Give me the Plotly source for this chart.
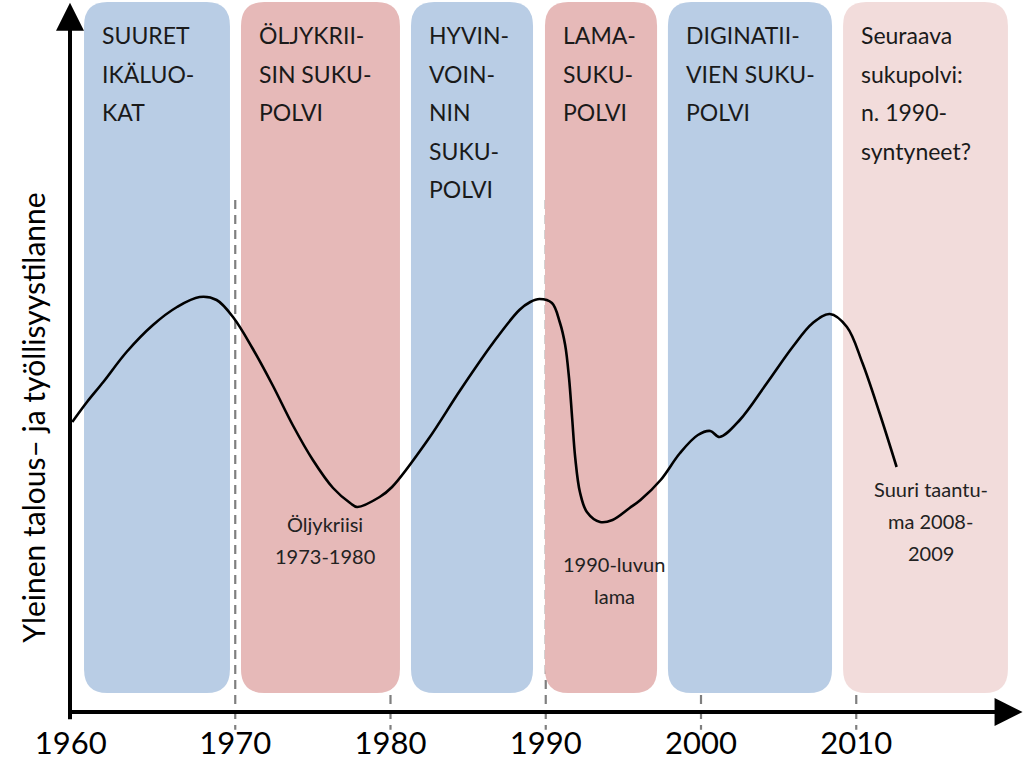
import plotly.graph_objects as go

# ---------------- data ----------------
# Schematic economy / employment curve (arbitrary index units)
CURVE_YEARS = [1959.5, 1960.45, 1961.5, 1963.0, 1964.7, 1966.25, 1967.7, 1968.8, 1969.9,
               1971.1, 1972.4, 1973.7, 1975.0, 1976.3, 1977.4, 1977.85, 1979.3, 1980.1,
               1982.4, 1984.5, 1986.6, 1988.3, 1989.0, 1989.6, 1990.4, 1990.9, 1991.25,
               1991.5, 1991.7, 1991.9, 1992.2, 1992.65, 1993.5, 1994.3, 1995.4, 1996.1,
               1997.4, 1998.65, 1999.8, 2000.6, 2001.2, 2002.5, 2004.25, 2005.9, 2007.2,
               2008.3, 2009.4, 2010.4, 2011.5, 2012.6]
CURVE_VALUES = [290, 310, 330, 360, 387, 405, 415, 412, 394,
                364, 327, 287, 252, 224, 209, 205, 215, 225,
                272, 322, 369, 402, 410, 413, 409, 390, 367,
                334, 294, 254, 220, 200, 190, 192, 204, 212,
                232, 259, 277, 281, 275, 292, 329, 365, 389,
                398, 385, 349, 299, 245]

# Generation bands
BAND_START = [1960.26, 1970.37, 1981.32, 1989.95, 1997.87, 2009.15]
BAND_END = [1969.66, 1980.61, 1989.18, 1997.17, 2008.44, 2019.77]
BAND_KIND = ["blue", "red", "blue", "red", "blue", "pink"]
BAND_LABELS = [
    ["SUURET", "IKÄLUO-", "KAT"],
    ["ÖLJYKRII-", "SIN SUKU-", "POLVI"],
    ["HYVIN-", "VOIN-", "NIN", "SUKU-", "POLVI"],
    ["LAMA-", "SUKU-", "POLVI"],
    ["DIGINATII-", "VIEN SUKU-", "POLVI"],
    ["Seuraava", "sukupolvi:", "n. 1990-", "syntyneet?"],
]

# Decade markers (dashed lines)
DECADES = [1970, 1980, 1990, 2000, 2010]

# Axis tick labels
X_ORIGIN = 1959.4
TICK_YEARS = [X_ORIGIN, 1970, 1980, 1990, 2000, 2010]
TICK_LABELS = ["1960", "1970", "1980", "1990", "2000", "2010"]

# Event notes
NOTE_YEARS = [1975.8, 1994.4, 2014.8]
NOTE_VALUES = [188, 148, 223]
NOTE_LINES = [
    ["Öljykriisi", "1973-1980"],
    ["1990-luvun", "lama"],
    ["Suuri taantu-", "ma 2008-", "2009"],
]

Y_TITLE = "Yleinen talous– ja työllisyystilanne"

# ---------------- styling ----------------
COLORS = {"blue": "#B9CDE5", "red": "#E6B9B8", "pink": "#F2DCDB"}
FONT = "Lato, 'Open Sans', sans-serif"
X_RANGE = [1959.356, 2020.805]
Y_RANGE = [0, 712]
BAND_TOP, BAND_BOTTOM = 710, 19
RX, RY = 1.5, 24  # corner radius in data units

fig = go.Figure()

shapes = []
for x0, x1, kind in zip(BAND_START, BAND_END, BAND_KIND):
    y0, y1 = BAND_BOTTOM, BAND_TOP
    path = (f"M {x0+RX},{y1} L {x1-RX},{y1} Q {x1},{y1} {x1},{y1-RY} "
            f"L {x1},{y0+RY} Q {x1},{y0} {x1-RX},{y0} L {x0+RX},{y0} "
            f"Q {x0},{y0} {x0},{y0+RY} L {x0},{y1-RY} Q {x0},{y1} {x0+RX},{y1} Z")
    shapes.append(dict(type="path", path=path, xref="x", yref="y",
                       fillcolor=COLORS[kind], line=dict(width=0), layer="below"))

for d in DECADES:
    shapes.append(dict(type="line", xref="x", yref="paper", x0=d, x1=d,
                       y0=0.719, y1=-0.025,
                       line=dict(color="#7f7f7f", width=2.2, dash="9px,6px"),
                       layer="below"))

fig.add_trace(go.Scatter(
    x=CURVE_YEARS, y=CURVE_VALUES, mode="lines",
    line=dict(color="black", width=2.6, shape="spline", smoothing=1.0),
    hoverinfo="skip", showlegend=False))

annotations = []
# band labels
for x0, lines in zip(BAND_START, BAND_LABELS):
    for i, t in enumerate(lines):
        annotations.append(dict(x=x0, y=Y_RANGE[1] - 35 - i * 38.5, xref="x", yref="y",
                                text=t, showarrow=False, xanchor="left", yanchor="middle",
                                xshift=16, font=dict(family=FONT, size=23, color="#1a1a1a")))
# notes
for xn, yn, lines in zip(NOTE_YEARS, NOTE_VALUES, NOTE_LINES):
    for i, t in enumerate(lines):
        annotations.append(dict(x=xn, y=yn - i * 32, xref="x", yref="y", text=t,
                                showarrow=False, xanchor="center", yanchor="middle",
                                font=dict(family=FONT, size=20, color="#222222")))
# axis arrows
annotations.append(dict(x=0.9985, y=0, xref="paper", yref="paper", ax=-954, ay=0,
                        axref="pixel", ayref="pixel", text="", showarrow=True,
                        arrowhead=2, arrowsize=1.4, arrowwidth=4, arrowcolor="black"))
annotations.append(dict(x=0, y=0.996, xref="paper", yref="paper", ax=0, ay=718,
                        axref="pixel", ayref="pixel", text="", showarrow=True,
                        arrowhead=2, arrowsize=1.4, arrowwidth=4, arrowcolor="black"))
# y title
annotations.append(dict(x=-0.039, y=0.413, xref="paper", yref="paper", text=Y_TITLE,
                        showarrow=False, textangle=-90, xanchor="center", yanchor="middle",
                        font=dict(family=FONT, size=30, color="black")))

fig.update_layout(
    width=1024, height=762,
    margin=dict(l=70, r=0, t=0, b=50),
    paper_bgcolor="white", plot_bgcolor="white",
    shapes=shapes, annotations=annotations, showlegend=False,
    xaxis=dict(range=X_RANGE, showgrid=False, zeroline=False, showline=False,
               tickvals=TICK_YEARS, ticktext=TICK_LABELS, ticks="",
               ticklabelstandoff=10,
               tickfont=dict(family=FONT, size=31, color="black")),
    yaxis=dict(range=Y_RANGE, showgrid=False, zeroline=False, showline=False,
               showticklabels=False, ticks=""),
)

fig.write_html("out.html", config={"displayModeBar": False},
               post_script="document.body.style.margin='0';document.body.style.overflow='hidden';")
